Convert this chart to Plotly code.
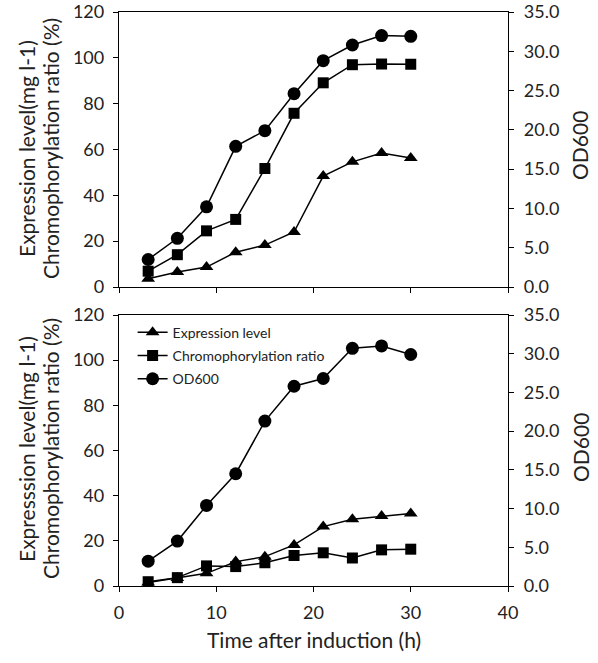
import plotly.graph_objects as go
from plotly.subplots import make_subplots

time_h = [3, 6, 9, 12, 15, 18, 21, 24, 27, 30]

top_expression = [3.6, 6.5, 8.7, 15.2, 18.3, 24.0, 48.4, 54.6, 58.5, 56.3]
top_chromo = [6.9, 14.1, 24.5, 29.5, 51.7, 75.8, 89.1, 97.0, 97.3, 97.2]
top_od600 = [3.5, 6.2, 10.2, 17.9, 19.9, 24.6, 28.8, 30.8, 32.0, 31.9]

bottom_expression = [1.5, 3.5, 5.6, 10.8, 13.0, 18.2, 26.3, 29.6, 31.0, 32.1]
bottom_chromo = [1.9, 3.7, 8.9, 8.6, 10.3, 13.5, 14.7, 12.4, 16.0, 16.3]
bottom_od600 = [3.2, 5.8, 10.4, 14.5, 21.3, 25.8, 26.8, 30.7, 31.0, 29.9]

series_names = ["Expression level", "Chromophorylation ratio", "OD600"]
left_ticks = [0, 20, 40, 60, 80, 100, 120]
right_ticks = [0, 5, 10, 15, 20, 25, 30, 35]
x_ticks = [0, 10, 20, 30, 40]

FONT = "Lato, 'Open Sans', sans-serif"

fig = make_subplots(rows=2, cols=1,
                    specs=[[{"secondary_y": True}], [{"secondary_y": True}]])

line_style = dict(color="black", width=1.5)

def add_panel(row, expr, chromo, od, showlegend):
    fig.add_trace(go.Scatter(x=time_h, y=expr, name=series_names[0], mode="lines+markers",
                             line=line_style, legendgroup="a",
                             marker=dict(symbol="triangle-up", size=12, color="black"),
                             showlegend=showlegend), row=row, col=1, secondary_y=False)
    fig.add_trace(go.Scatter(x=time_h, y=chromo, name=series_names[1], mode="lines+markers",
                             line=line_style, legendgroup="b",
                             marker=dict(symbol="square", size=11, color="black"),
                             showlegend=showlegend), row=row, col=1, secondary_y=False)
    fig.add_trace(go.Scatter(x=time_h, y=od, name=series_names[2], mode="lines+markers",
                             line=line_style, legendgroup="c",
                             marker=dict(symbol="circle", size=13, color="black"),
                             showlegend=showlegend), row=row, col=1, secondary_y=True)

add_panel(1, top_expression, top_chromo, top_od600, False)
add_panel(2, bottom_expression, bottom_chromo, bottom_od600, True)

axis_common = dict(showline=True, linecolor="black", linewidth=1.3, ticks="outside",
                   ticklen=5, tickcolor="black", tickwidth=1.3, showgrid=False,
                   zeroline=False, automargin=False, ticklabeloverflow="allow",
                   tickfont=dict(family=FONT, size=18, color="#222"))

H = 663
mt, mb = 12, 77
ph = H - mt - mb
top_dom = [1 - (287 - mt) / ph, 1]
bot_dom = [0, 1 - (315 - mt) / ph]

fig.update_layout(
    xaxis=dict(**axis_common, range=[0, 40], tickvals=x_ticks, showticklabels=False,
               mirror=True, anchor="y", domain=[0, 1]),
    xaxis2=dict(**axis_common, range=[0, 40], tickvals=x_ticks, mirror=True, anchor="y3",
                domain=[0, 1], ticklabelstandoff=5),
    yaxis=dict(**axis_common, range=[0, 120], tickvals=left_ticks, domain=top_dom,
               ticklabelstandoff=5),
    yaxis2=dict(**axis_common, range=[0, 35], tickvals=right_ticks, tickformat=".1f",
                domain=top_dom, side="right", overlaying="y", anchor="x",
                ticklabelstandoff=6),
    yaxis3=dict(**axis_common, range=[0, 120], tickvals=left_ticks, domain=bot_dom,
                ticklabelstandoff=5),
    yaxis4=dict(**axis_common, range=[0, 35], tickvals=right_ticks, tickformat=".1f",
                domain=bot_dom, side="right", overlaying="y3", anchor="x2",
                ticklabelstandoff=6),
)

fig.update_layout(
    width=598, height=663,
    margin=dict(l=119, r=90, t=mt, b=mb, autoexpand=False),
    paper_bgcolor="white", plot_bgcolor="white",
    font=dict(family=FONT, color="#222"),
    legend=dict(x=0.035, y=bot_dom[1] - 0.003, xanchor="left", yanchor="top",
                font=dict(family=FONT, size=14, color="#222"),
                bgcolor="rgba(0,0,0,0)", tracegroupgap=2, itemwidth=30),
)

def ypix(y):
    return 1 - (y - mt) / ph

def xpaper(x):
    return (x - 119) / (598 - 119 - 90)

annots = [
    dict(text="Expression level(mg l-1)", x=xpaper(26), y=ypix(149), textangle=-90),
    dict(text="Chromophorylation ratio (%)", x=xpaper(50), y=ypix(149), textangle=-90),
    dict(text="Expresssion level(mg l-1)", x=xpaper(26), y=ypix(449), textangle=-90),
    dict(text="Chromophorylation ratio (%)", x=xpaper(50), y=ypix(449), textangle=-90),
    dict(text="OD600", x=xpaper(580), y=ypix(146), textangle=-90),
    dict(text="OD600", x=xpaper(580), y=ypix(448), textangle=-90),
    dict(text="Time after induction (h)", x=xpaper(314), y=ypix(639), textangle=0),
]
for a in annots:
    fig.add_annotation(xref="paper", yref="paper", showarrow=False,
                       xanchor="center", yanchor="middle",
                       font=dict(family=FONT, size=21, color="#222"), **a)

fig.write_html("out.html", config={"displayModeBar": False},
               post_script="document.body.style.margin='0';")
